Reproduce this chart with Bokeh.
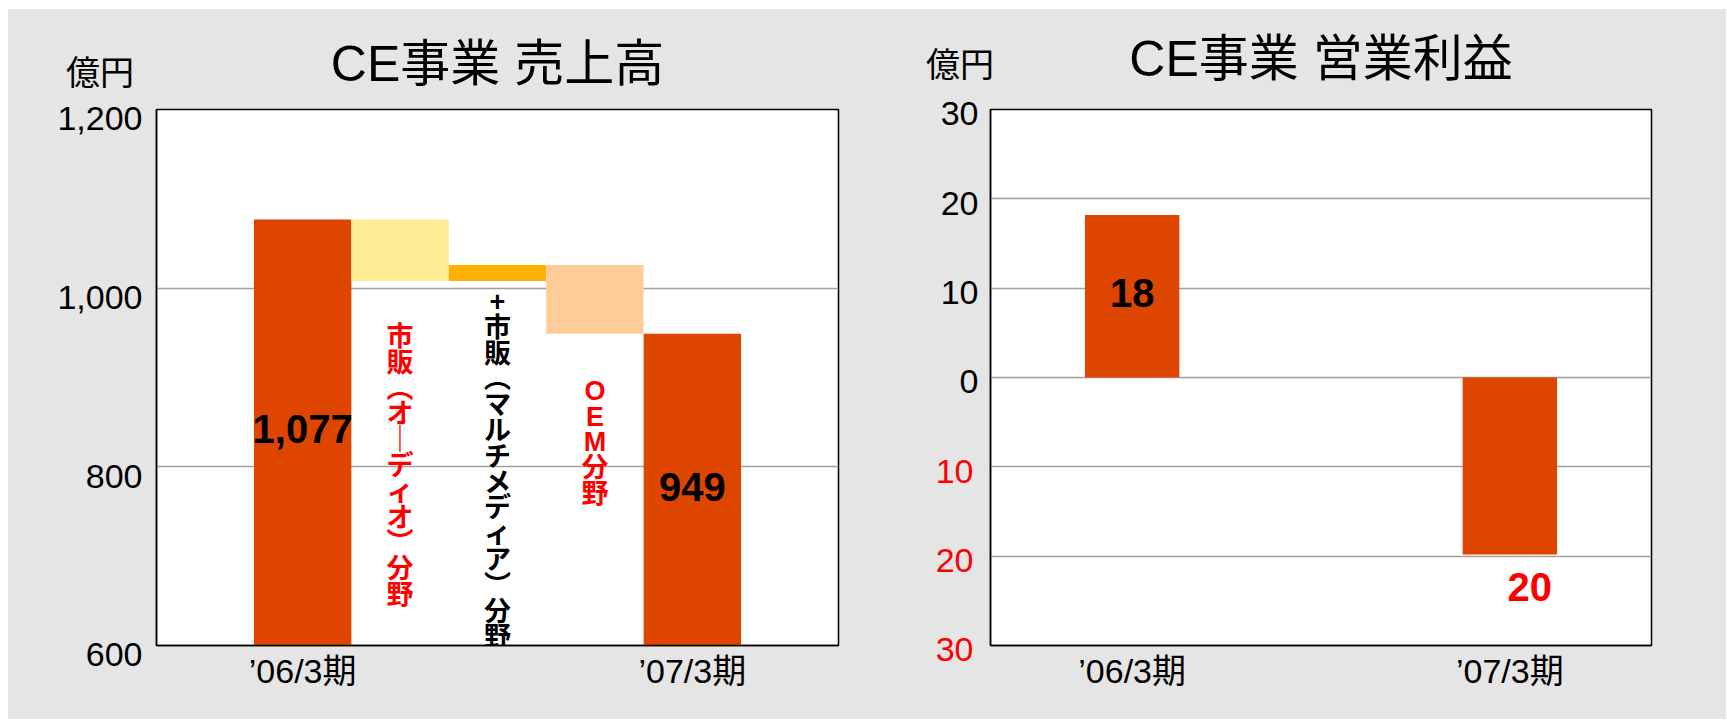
from bokeh.plotting import figure
from bokeh.layouts import row
from bokeh.models import Range1d, FixedTicker, LinearAxis, Title
from bokeh.core.properties import value
from bokeh.embed import file_html
from bokeh.resources import INLINE

# ---------------- data ----------------
periods = ["’06/3期", "’07/3期"]

sales_title = "CE事業 売上高"
sales_values = [1077, 949]
sales_labels = ["1,077", "949"]
step_names = ["市販（オーディオ）分野", "+市販（マルチメディア）分野", "OEM分野"]
step_changes = [-69, 18, -77]
sales_ticks = [600, 800, 1000, 1200]
sales_tick_labels = ["600", "800", "1,000", "1,200"]

profit_title = "CE事業 営業利益"
profit_values = [18.2, -19.8]
profit_labels = ["18", "20"]
profit_ticks = [-30, -20, -10, 0, 10, 20, 30]
profit_tick_labels = ["30", "20", "10", "0", "10", "20", "30"]

unit_label = "億円"

# ---------------- style ----------------
FONT = "'Liberation Sans', 'Noto Sans CJK JP'"
BG = "#e5e5e5"
BAR = "#dd4500"
STEP_COLORS = ["#ffec94", "#ffb000", "#ffcc99"]
STEP_TEXT_COLORS = ["#ff0000", "#000000", "#ff0000"]
RED = "#ff0000"
VERT = {"（": "︵", "）": "︶", "ー": "｜"}


def vertical(s):
    return "\n".join(VERT.get(ch, ch) for ch in s)


def style_yaxis(ax, ticks, labels, color, standoff, shift_lh):
    ax.ticker = FixedTicker(ticks=ticks)
    # leading empty line + small line height nudges each label slightly below its tick
    ax.major_label_overrides = {t: "\n" + lab for t, lab in zip(ticks, labels)}
    ax.major_label_text_line_height = shift_lh
    ax.major_label_text_font = FONT
    ax.major_label_text_font_size = "34px"
    ax.major_label_text_color = color
    ax.major_label_standoff = standoff
    ax.major_tick_out = 0
    ax.major_tick_in = 0
    ax.major_tick_line_color = None
    ax.minor_tick_line_color = None


def base_fig(width, height, title, yr, ml, mr, mt, mb, unit_lh, unit_offset, title_standoff):
    p = figure(width=width, height=height, x_range=Range1d(0, 7), y_range=Range1d(*yr),
               output_backend="svg", toolbar_location=None, title="",
               min_border_left=ml, min_border_right=mr, min_border_top=mt, min_border_bottom=mb)
    p.background_fill_color = "white"
    p.border_fill_color = BG
    p.outline_line_color = "black"
    p.outline_line_width = 1.5
    p.xgrid.visible = False
    p.ygrid.grid_line_color = "#a0a0a0"
    p.ygrid.grid_line_width = 1.5
    # unit label sits in the row next to the frame, chart title in the row above it
    p.add_layout(Title(text=unit_label + "\n", align="left", offset=unit_offset, standoff=0,
                       text_line_height=unit_lh, text_font=FONT, text_font_size="34px",
                       text_font_style="normal", text_color="black"), "above")
    p.add_layout(Title(text="\n" + title, align="center", standoff=title_standoff,
                       text_line_height=0.8, text_font=FONT, text_font_size="50px",
                       text_font_style="normal", text_color="black"), "above")
    xa = p.xaxis[0]
    xa.axis_line_color = "black"
    xa.axis_line_width = 1.5
    xa.major_tick_out = 0
    xa.major_tick_in = 0
    xa.major_tick_line_color = None
    xa.minor_tick_line_color = None
    xa.major_label_standoff = 6
    xa.major_label_text_font = FONT
    xa.major_label_text_font_size = "34px"
    xa.major_label_text_color = "black"
    ya = p.yaxis[0]
    ya.axis_line_color = "black"
    ya.axis_line_width = 1.5
    return p


# ---------------- left: sales waterfall ----------------
p1 = base_fig(842, 710, sales_title, (600, 1200), 148, 12, 100, 74, 0.45, -90.5, -79.8)
n = len(step_changes)
total_x = [1.5, 1.5 + n + 1]
step_x = [2.5 + i for i in range(n)]
p1.xaxis[0].ticker = FixedTicker(ticks=total_x)
p1.xaxis[0].major_label_overrides = {x: lab for x, lab in zip(total_x, periods)}
p1.ygrid.ticker = FixedTicker(ticks=sales_ticks)
style_yaxis(p1.yaxis[0], sales_ticks, sales_tick_labels, "black", 14, 0.46)

levels = [sales_values[0]]
for c in step_changes:
    levels.append(levels[-1] + c)
tops = [max(levels[i], levels[i + 1]) for i in range(n)]
bottoms = [min(levels[i], levels[i + 1]) for i in range(n)]

base = p1.y_range.start
p1.vbar(x=total_x, top=sales_values, bottom=base, width=1, fill_color=BAR, line_color=None)
p1.vbar(x=step_x, top=tops, bottom=bottoms, width=1, fill_color=STEP_COLORS, line_color=None)

p1.text(x=total_x, y=[(base + v) / 2 for v in sales_values], text=sales_labels,
        text_align="center", text_baseline="middle", y_offset=-3,
        text_font=value(FONT), text_font_size=value("40px"), text_font_style="bold",
        text_color="black")

p1.text(x=step_x, y=bottoms, text=[vertical(s) for s in step_names],
        text_color=STEP_TEXT_COLORS, y_offset=[41, 6, 42],
        text_align="center", text_baseline="top", text_line_height=0.86,
        text_font=value(FONT), text_font_size=value("27px"), text_font_style="bold")

# ---------------- right: operating profit ----------------
p2 = base_fig(876, 710, profit_title, (-30, 30), 140, 75, 100, 72, 0.68, -64.5, -86.4)
px = [1.5, 5.5]
p2.xaxis[0].ticker = FixedTicker(ticks=px)
p2.xaxis[0].major_label_overrides = {x: lab for x, lab in zip(px, periods)}
p2.ygrid.ticker = FixedTicker(ticks=profit_ticks)

pos_t = [t for t in profit_ticks if t >= 0]
neg_t = [t for t in profit_ticks if t < 0]
lab_of = dict(zip(profit_ticks, profit_tick_labels))
style_yaxis(p2.yaxis[0], pos_t, [lab_of[t] for t in pos_t], "black", 12, 0.2)
# second (outer) axis for the red negative labels, pulled back under the first one
neg_axis = LinearAxis(axis_line_color=None)
style_yaxis(neg_axis, neg_t, [lab_of[t] for t in neg_t], RED, -36, 0.2)
p2.add_layout(neg_axis, "left")

p2.vbar(x=px, top=profit_values, bottom=0, width=1, fill_color=BAR, line_color=None)

pos = [i for i, v in enumerate(profit_values) if v >= 0]
neg = [i for i, v in enumerate(profit_values) if v < 0]
p2.text(x=[px[i] for i in pos], y=[profit_values[i] / 2 for i in pos],
        text=[profit_labels[i] for i in pos], text_align="center", text_baseline="middle",
        y_offset=-3, text_font=value(FONT), text_font_size=value("40px"),
        text_font_style="bold", text_color="black")
p2.text(x=[px[i] for i in neg], y=[profit_values[i] for i in neg],
        text=[profit_labels[i] for i in neg], text_align="center", text_baseline="middle",
        x_offset=20, y_offset=33, text_font=value(FONT), text_font_size=value("40px"),
        text_font_style="bold", text_color=RED)

layout = row(p1, p2, spacing=0, margin=(9, 0, 0, 8), styles={"background-color": BG})
open("out.html", "w").write(file_html(layout, INLINE))
